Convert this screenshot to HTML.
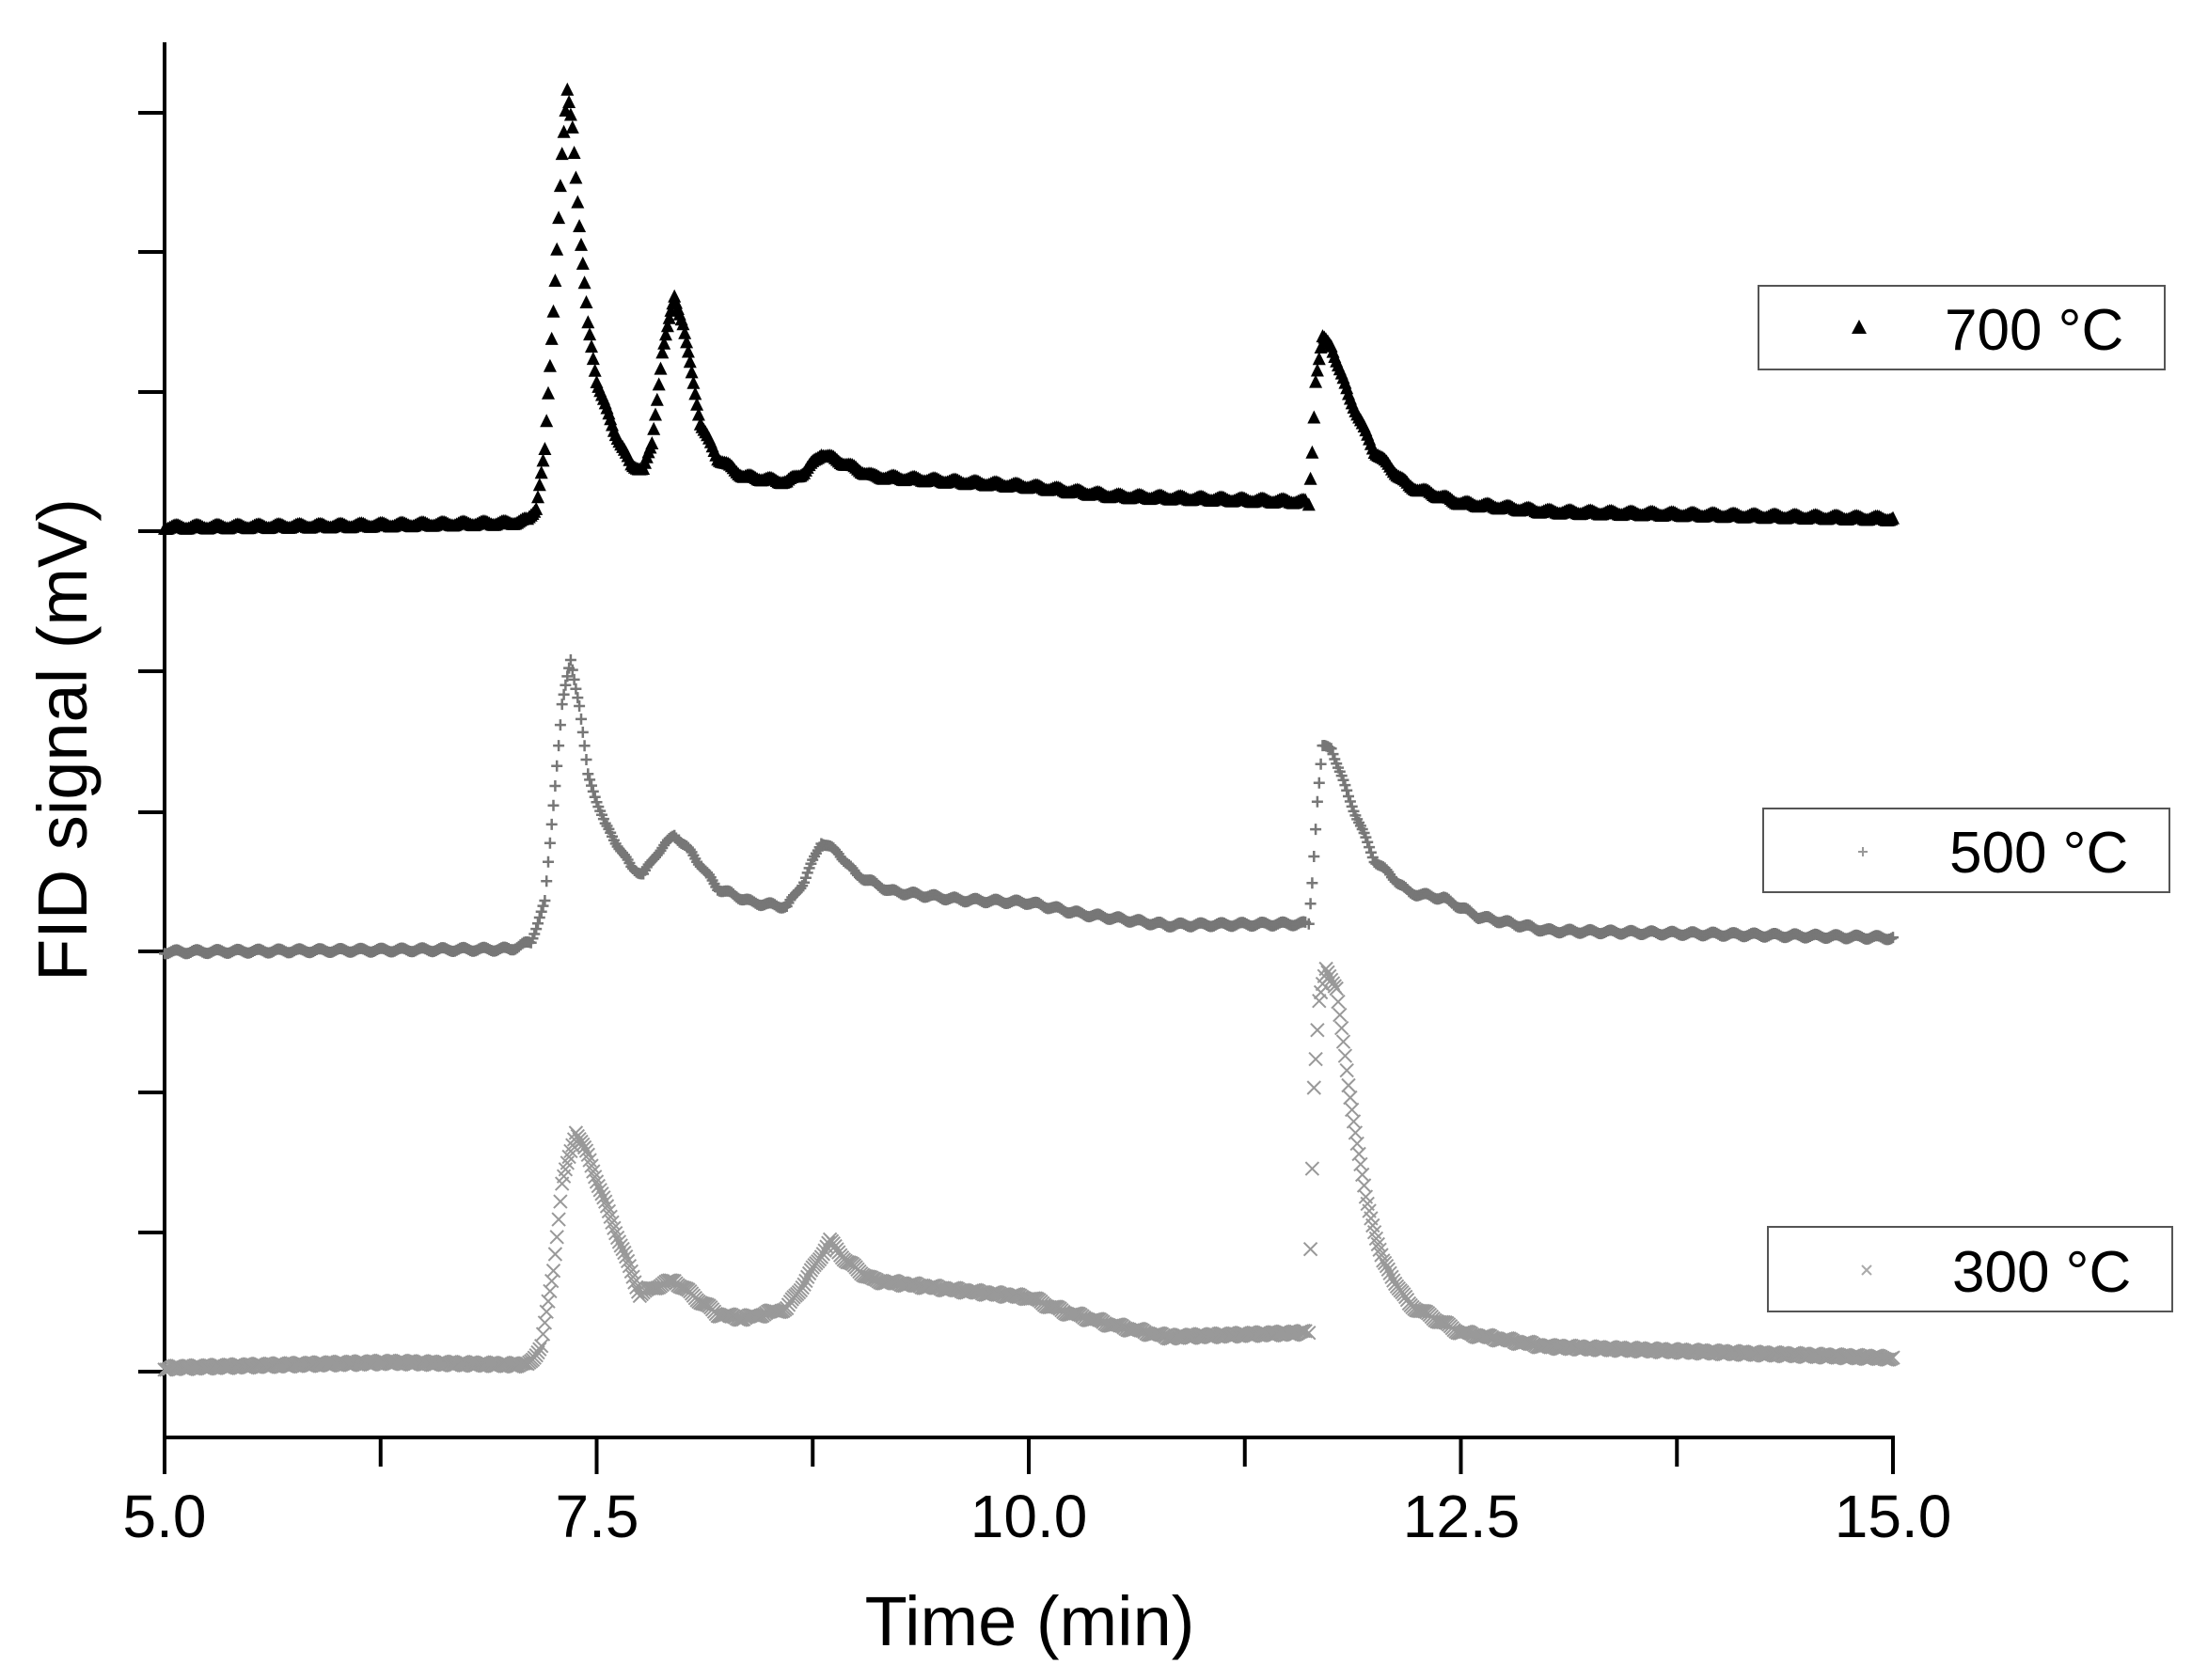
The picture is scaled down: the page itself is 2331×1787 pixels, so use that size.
<!DOCTYPE html>
<html><head><meta charset="utf-8"><style>
html,body{margin:0;padding:0;background:#fff;}
svg{display:block;}
text{font-family:"Liberation Sans",Arial,sans-serif;}
</style></head><body>
<svg id="s" width="2331" height="1787" viewBox="0 0 2331 1787" xmlns="http://www.w3.org/2000/svg">
<g stroke="#000" stroke-width="4" fill="none">
<line x1="175" y1="45" x2="175" y2="1529"/>
<line x1="173" y1="1529" x2="2015" y2="1529"/>
</g>
<g id="ticks" stroke="#000" stroke-width="4"></g>
<g font-size="64" text-anchor="middle" fill="#000">
<text x="175" y="1635">5.0</text>
<text x="635" y="1635">7.5</text>
<text x="1094" y="1635">10.0</text>
<text x="1554" y="1635">12.5</text>
<text x="2013" y="1635">15.0</text>
</g>
<text x="1095" y="1750" font-size="74" text-anchor="middle">Time (min)</text>
<text transform="translate(92,787) rotate(-90)" font-size="74" text-anchor="middle">FID signal (mV)</text>
<g id="data"></g>
<g stroke="#555" stroke-width="2" fill="#fff">
<rect x="1870" y="304" width="432" height="89"/>
<rect x="1875" y="860" width="432" height="89"/>
<rect x="1880" y="1305" width="430" height="90"/>
</g>
<g font-size="62" fill="#000">
<text x="2068" y="372">700 °C</text>
<text x="2073" y="928">500 °C</text>
<text x="2076" y="1374">300 °C</text>
</g>
<polygon points="1977,340 1969,355 1985,355" fill="#000"/>
<g stroke="#999" stroke-width="2"><line x1="1976" y1="906" x2="1986" y2="906"/><line x1="1981" y1="901" x2="1981" y2="911"/></g>
<g stroke="#aaa" stroke-width="2"><line x1="1980" y1="1346" x2="1990" y2="1356"/><line x1="1990" y1="1346" x2="1980" y2="1356"/></g>
</svg>
<script>
function X(t){return 175+(t-5)*183.8;}
var tk=document.getElementById("ticks"),h="";
[120,268,417,565,714,864,1012,1162,1311,1459].forEach(function(y){h+='<line x1="147" y1="'+y+'" x2="175" y2="'+y+'"/>';});
for(var i=0;i<=8;i++){var t=5+i*1.25,x=X(t);h+='<line x1="'+x+'" y1="1529" x2="'+x+'" y2="'+(i%2?1560:1568)+'"/>';}
tk.innerHTML=h;
var s7=[[[5,374],[6,373],[7,371],[7.1,369],[7.15,360],[7.2,320],[7.25,220],[7.3,110],[7.33,65],[7.36,90],[7.4,160],[7.45,230],[7.5,270],[7.6,305],[7.7,330],[7.77,333],[7.82,315],[7.88,250],[7.95,210],[8.0,230],[8.1,300],[8.2,325],[8.35,338],[8.6,342],[8.7,335],[8.8,322],[8.9,327],[9.1,338],[10,345],[10.5,352],[11.6,356]],
[[11.62,358],[11.64,320],[11.66,270],[11.7,240],[11.75,245],[11.85,280],[12.0,320],[12.2,345],[12.5,357],[13,363],[15,368]]];
var s5=[[[5,675],[7,673],[7.12,668],[7.2,640],[7.25,570],[7.3,500],[7.35,468],[7.4,500],[7.45,550],[7.55,585],[7.7,615],[7.77,620],[7.85,605],[7.95,592],[8.05,605],[8.2,630],[8.4,640],[8.6,643],[8.7,625],[8.8,597],[8.9,605],[9.0,620],[9.2,632],[9.6,638],[10,640],[10.3,648],[10.8,656],[11.6,655]],
[[11.62,655],[11.64,625],[11.67,568],[11.7,530],[11.75,530],[11.85,565],[12,610],[12.2,633],[12.4,637],[12.6,650],[13,660],[15,665]]];
var s3=[[[5,970],[6.3,966],[7.1,968],[7.18,955],[7.25,900],[7.3,840],[7.38,802],[7.45,820],[7.6,870],[7.75,918],[7.85,912],[7.95,908],[8.05,918],[8.2,932],[8.35,935],[8.6,928],[8.7,910],[8.85,880],[8.95,895],[9.1,908],[9.6,915],[10,920],[10.2,930],[10.5,940],[10.8,948],[11.6,945]],
[[11.62,945],[11.63,885],[11.65,770],[11.68,710],[11.72,688],[11.78,700],[11.85,770],[11.95,850],[12.05,895],[12.2,925],[12.5,945],[13,955],[15,963]]];
function interp(k,t){for(var i=0;i<k.length-1;i++){if(t>=k[i][0]&&t<=k[i+1][0]){var f=(t-k[i][0])/(k[i+1][0]-k[i][0]);return k[i][1]+f*(k[i+1][1]-k[i][1]);}}return k[k.length-1][1];}
var out="";
function series(ss,type){ss.forEach(function(k){var t0=k[0][0],t1=k[k.length-1][0];for(var t=t0;t<=t1+1e-9;t+=0.01){var x=X(t),y=interp(k,t)*1.5,n=Math.sin(t*53)*2;y+=n;
if(type==7){out+='<polygon points="'+x.toFixed(1)+','+(y-8).toFixed(1)+' '+(x-7).toFixed(1)+','+(y+6).toFixed(1)+' '+(x+7).toFixed(1)+','+(y+6).toFixed(1)+'" fill="#000"/>';}
else if(type==5){out+='<path d="M'+(x-6).toFixed(1)+' '+y.toFixed(1)+'h12M'+x.toFixed(1)+' '+(y-6).toFixed(1)+'v12" stroke="#777" stroke-width="2.5" fill="none"/>';}
else{out+='<path d="M'+(x-7).toFixed(1)+' '+(y-7).toFixed(1)+'l14 14M'+(x+7).toFixed(1)+' '+(y-7).toFixed(1)+'l-14 14" stroke="#999" stroke-width="2" fill="none"/>';}}});}
series(s3,3);series(s5,5);series(s7,7);
document.getElementById("data").innerHTML=out;
</script>
</body></html>
